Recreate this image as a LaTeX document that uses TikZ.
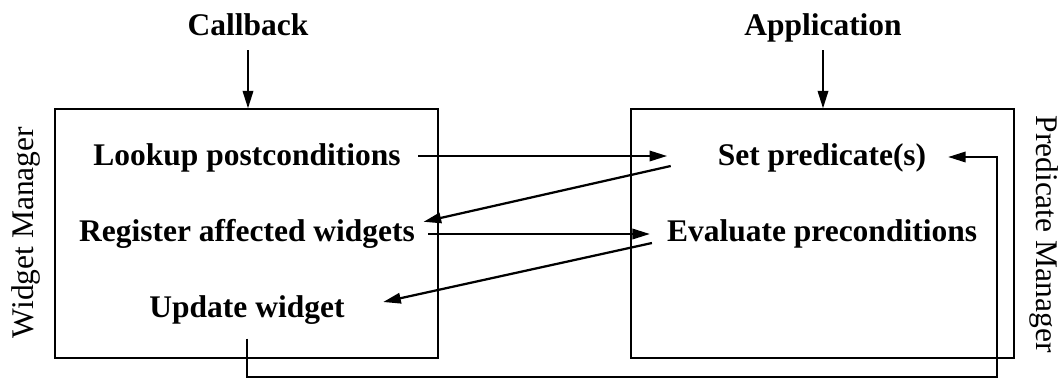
\documentclass[tikz,border=0pt]{standalone}
\usepackage{fontspec}
\setmainfont{Liberation Serif}
\usetikzlibrary{arrows.meta}

\begin{document}
\begin{tikzpicture}[
  lbl/.style={font=\bfseries\fontsize{22.4}{26}\selectfont, inner sep=0pt, anchor=base},
  side/.style={font=\fontsize{22.4}{26}\selectfont, inner sep=0pt},
  mgr/.style={draw=black, line width=0.8pt, minimum width=9.575cm, minimum height=6.225cm, inner sep=0pt},
  arr/.style={-{Triangle[length=4.4mm,width=2.6mm]}, line width=1.6pt}]
\useasboundingbox (0,0) rectangle (26.525,9.425);
% managers
\node [mgr] (wm) at (6.1625,3.5875) {};
\node [mgr] (pm) at (20.5625,3.5875) {};
\node [side, rotate=90] (wmlabel) at (0.65,3.6125) {Widget Manager};
\node [side, rotate=-90] (pmlabel) at (26.1,3.575) {Predicate Manager};
% entry points
\node [lbl] (callback) at (6.2,8.55) {Callback};
\node [lbl] (app) at (20.575,8.55) {Application};
% steps
\node [lbl] (lookup) at (6.175,5.3) {Lookup postconditions};
\node [lbl] (register) at (6.175,3.4) {Register affected widgets};
\node [lbl] (update) at (6.175,1.5) {Update widget};
\node [lbl] (setp) at (20.55,5.3) {Set predicate(s)};
\node [lbl] (evalp) at (20.55,3.4) {Evaluate preconditions};
\coordinate (turn) at (24.925,0);
% connectors
\draw [arr] ([yshift=-3.75mm]callback.base) -- (callback.base |- wm.north);
\draw [arr] ([yshift=-3.75mm]app.base) -- (app.base |- pm.north);
\draw [arr] ([shift={(4.4mm,2.25mm)}]lookup.base east) -- ([shift={(-12.6mm,2.25mm)}]setp.base west);
\draw [arr] ([shift={(-11.7mm,-0.25mm)}]setp.base west) -- ([shift={(2.1mm,4.8mm)}]register.base east);
\draw [arr] ([shift={(3.25mm,1.75mm)}]register.base east) -- ([shift={(-4.2mm,1.75mm)}]evalp.base west);
\draw [arr] ([shift={(-3.7mm,-0.5mm)}]evalp.base west) -- ([shift={(9.6mm,3.75mm)}]update.base east);
\draw [arr] ([yshift=-3.6mm]update.south) |- (turn) |- ([shift={(5.4mm,2mm)}]setp.base east);
\end{tikzpicture}
\end{document}
